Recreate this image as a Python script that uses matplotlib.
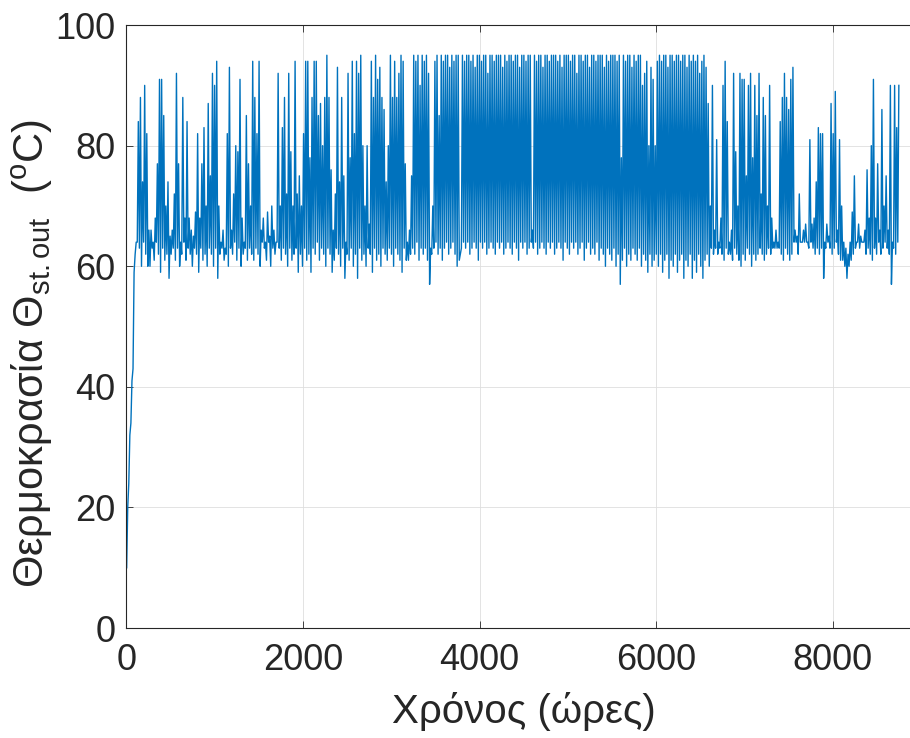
import matplotlib.pyplot as plt

plt.rcParams['font.family'] = ['Liberation Sans', 'DejaVu Sans']
plt.rcParams['mathtext.fontset'] = 'custom'
plt.rcParams['mathtext.rm'] = 'Liberation Sans'
plt.rcParams['mathtext.it'] = 'Liberation Sans:italic'

# daily minimum / maximum of the storage outlet temperature, one value per day
day_low = [
    10, 24, 34, 43, 62, 64, 63, 60, 64, 62, 60, 60, 63, 61, 64, 62, 59, 63, 61, 62,
    58, 62, 63, 61, 63, 60, 62, 64, 61, 63, 62, 60, 63, 62, 59, 63, 61, 62, 60, 63,
    62, 60, 63, 58, 62, 63, 61, 62, 60, 63, 62, 64, 61, 63, 60, 62, 63, 61, 63, 62,
    61, 63, 62, 60, 64, 63, 61, 64, 60, 63, 62, 64, 63, 61, 63, 62, 60, 63, 61, 62,
    63, 59, 62, 60, 63, 61, 62, 59, 63, 62, 64, 61, 63, 62, 60, 63, 62, 59, 61, 63,
    62, 60, 63, 58, 62, 61, 63, 60, 62, 58, 63, 61, 62, 60, 63, 62, 59, 63, 61, 62,
    60, 63, 62, 61, 63, 62, 60, 63, 62, 61, 59, 63, 61, 61, 62, 63, 62, 64, 61, 63,
    62, 63, 61, 57, 62, 63, 64, 62, 63, 61, 63, 64, 62, 63, 64, 62, 60, 61, 63, 64,
    63, 64, 62, 63, 64, 63, 61, 64, 63, 64, 62, 63, 64, 63, 62, 64, 63, 64, 62, 63,
    64, 63, 62, 64, 63, 61, 64, 63, 64, 62, 63, 64, 63, 64, 62, 63, 64, 63, 62, 64,
    63, 64, 62, 63, 64, 63, 61, 64, 63, 62, 64, 63, 64, 62, 63, 64, 61, 63, 64, 62,
    63, 62, 64, 61, 63, 62, 60, 63, 62, 61, 63, 60, 62, 57, 61, 63, 60, 62, 61, 63,
    62, 61, 63, 60, 62, 61, 59, 62, 60, 61, 62, 60, 62, 59, 61, 62, 58, 61, 60, 62,
    59, 61, 62, 58, 61, 60, 62, 58, 61, 59, 62, 60, 58, 61, 62, 60, 63, 62, 63, 62,
    63, 62, 61, 63, 62, 62, 61, 63, 62, 61, 60, 62, 61, 63, 62, 60, 62, 61, 62, 63,
    62, 61, 62, 63, 62, 63, 63, 63, 63, 62, 61, 63, 62, 61, 62, 64, 64, 62, 64, 64,
    64, 64, 63, 64, 63, 62, 63, 62, 63, 58, 63, 64, 63, 62, 63, 64, 62, 61, 61, 60,
    58, 60, 61, 62, 63, 64, 63, 64, 64, 62, 63, 62, 61, 63, 62, 64, 62, 63, 64, 63,
    62, 57, 63, 62, 64,
]
day_peak = [
    20, 32, 41, 59, 64, 84, 88, 74, 90, 82, 66, 66, 64, 68, 77, 91, 91, 85, 70, 74,
    65, 66, 72, 92, 77, 64, 88, 68, 84, 68, 66, 65, 69, 82, 68, 77, 83, 70, 87, 75,
    92, 90, 94, 70, 64, 66, 63, 82, 93, 66, 72, 80, 79, 91, 68, 64, 85, 77, 70, 94,
    88, 82, 94, 66, 68, 64, 69, 65, 70, 66, 64, 92, 70, 83, 88, 72, 92, 79, 70, 94,
    72, 75, 70, 82, 94, 94, 78, 88, 94, 94, 85, 87, 80, 88, 95, 88, 76, 66, 72, 93,
    74, 88, 75, 64, 92, 78, 94, 82, 94, 92, 95, 80, 70, 80, 67, 94, 88, 95, 91, 93,
    88, 86, 74, 80, 95, 88, 94, 88, 92, 95, 94, 77, 64, 66, 75, 95, 94, 95, 90, 95,
    94, 95, 92, 63, 70, 94, 95, 85, 95, 94, 95, 95, 93, 95, 94, 95, 95, 62, 95, 94,
    95, 95, 94, 95, 93, 95, 95, 94, 95, 95, 92, 95, 95, 94, 95, 95, 95, 93, 95, 94,
    95, 95, 94, 95, 95, 93, 95, 95, 94, 95, 95, 66, 95, 94, 95, 95, 93, 95, 95, 94,
    95, 95, 95, 94, 95, 93, 95, 95, 95, 94, 95, 95, 92, 95, 95, 94, 95, 95, 93, 95,
    95, 94, 95, 95, 95, 93, 95, 94, 95, 95, 95, 94, 95, 78, 95, 94, 95, 95, 93, 95,
    94, 95, 95, 90, 92, 94, 80, 93, 91, 80, 94, 95, 94, 95, 95, 93, 95, 95, 94, 95,
    95, 94, 95, 95, 93, 95, 94, 95, 94, 95, 92, 94, 95, 93, 87, 70, 90, 66, 81, 64,
    68, 90, 94, 84, 64, 66, 92, 79, 70, 92, 91, 91, 75, 90, 92, 78, 90, 85, 92, 72,
    88, 85, 70, 90, 68, 64, 66, 64, 84, 88, 92, 88, 86, 91, 93, 66, 65, 72, 64, 66,
    67, 64, 81, 67, 68, 74, 83, 82, 82, 64, 67, 65, 87, 82, 89, 66, 81, 70, 64, 63,
    62, 64, 69, 75, 64, 67, 65, 64, 66, 76, 68, 80, 91, 68, 77, 66, 86, 70, 75, 66,
    90, 64, 90, 83, 90,
]

x_ticks = [0, 2000, 4000, 6000, 8000]
y_ticks = [0, 20, 40, 60, 80, 100]

hours = []
temps = []
for d, (lo, hi) in enumerate(zip(day_low, day_peak)):
    hours += [24 * d + 2, 24 * d + 14]
    temps += [lo, hi]

fig = plt.figure(figsize=(9.1, 7.38), dpi=100)
ax = fig.add_axes([0.139, 0.149, 0.873, 0.817])

ax.plot(hours, temps, color='#0072BD', lw=1.0)

ax.set_xlim(0, 9000)
ax.set_ylim(0, 100)
ax.set_xticks(x_ticks)
ax.set_yticks(y_ticks)
ax.grid(True, color='#dedede', lw=0.6)
ax.set_axisbelow(True)

for s in ax.spines.values():
    s.set_color('#262626')
    s.set_linewidth(0.8)
ax.tick_params(direction='in', length=5, width=0.6, colors='#262626',
               labelsize=26, top=True, right=True)
ax.tick_params(axis='x', pad=11)
ax.tick_params(axis='y', pad=8)

ax.set_xlabel('Χρόνος (ώρες)', fontsize=29, color='#262626')
ax.set_ylabel('Θερμοκρασία Θ$_{\\mathrm{st.out}}$  ($^{\\mathrm{o}}$C)',
              fontsize=30, color='#262626')
ax.xaxis.set_label_coords(0.5, -0.139)
ax.xaxis.label.set_va('center')
ax.yaxis.set_label_coords(-0.118, 0.455)
ax.yaxis.label.set_va('center')

fig.savefig('out.png', dpi=100)
